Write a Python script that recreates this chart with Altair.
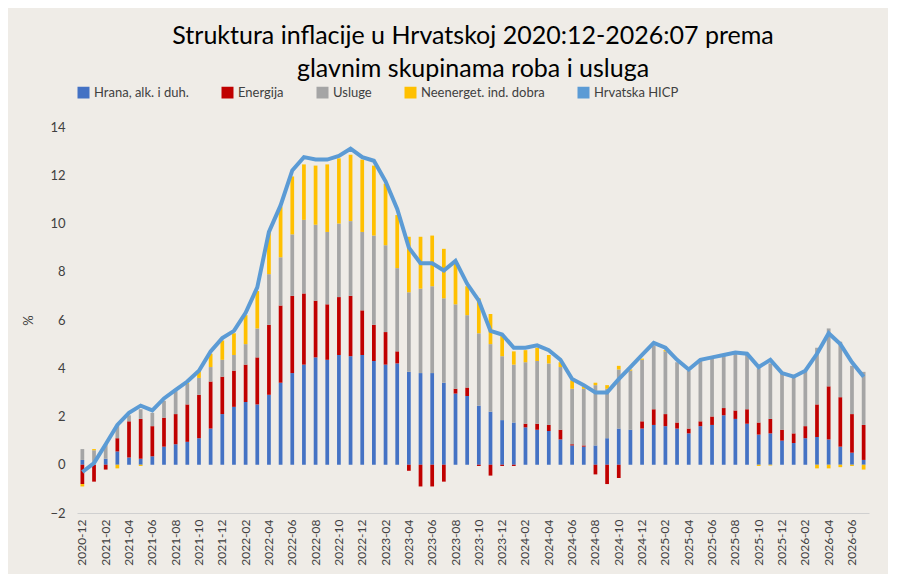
import altair as alt
import pandas as pd

start = pd.Period("2020-12", freq="M")
months = [str(start + i) for i in range(68)]

hrana = [0.2, 0.0, 0.25, 0.55, 0.3, 0.25, 0.35, 0.75, 0.85, 0.95, 1.1, 1.5, 2.1, 2.4, 2.6, 2.5,
         2.9, 3.4, 3.8, 4.15, 4.45, 4.35, 4.55, 4.5, 4.55, 4.3, 4.15, 4.2, 3.85, 3.8, 3.8, 3.4,
         2.95, 2.85, 2.45, 2.2, 1.85, 1.75, 1.55, 1.45, 1.4, 1.05, 0.8, 0.75, 0.8, 1.1, 1.5, 1.45,
         1.5, 1.65, 1.6, 1.5, 1.3, 1.6, 1.65, 2.05, 1.9, 1.7, 1.25, 1.3, 1.0, 0.9, 1.1, 1.15,
         1.05, 0.75, 0.5, 0.2]
energija = [-0.8, -0.7, -0.2, 0.55, 1.5, 1.65, 1.25, 1.2, 1.25, 1.55, 1.8, 1.95, 1.55, 1.5, 1.55, 1.95,
            2.9, 3.2, 3.2, 2.95, 2.35, 2.3, 2.4, 2.5, 1.85, 1.5, 1.35, 0.5, -0.25, -0.9, -0.9, -0.7,
            0.2, 0.35, -0.05, -0.45, -0.05, -0.05, 0.15, 0.25, 0.25, 0.4, 0.05, 0.05, -0.4, -0.8, -0.55, 0.0,
            0.3, 0.65, 0.5, 0.25, 0.2, 0.2, 0.35, 0.3, 0.35, 0.6, 0.5, 0.6, 0.45, 0.4, 0.5, 1.35,
            2.2, 2.05, 1.6, 1.45]
usluge = [0.45, 0.6, 0.6, 0.55, 0.25, 0.4, 0.55, 0.7, 0.95, 0.85, 0.7, 0.6, 0.7, 0.65, 0.85, 1.2,
          2.1, 2.0, 2.55, 3.05, 3.15, 3.0, 3.05, 3.1, 3.25, 3.7, 3.6, 3.45, 3.3, 3.5, 3.6, 3.5,
          3.5, 3.0, 3.0, 2.8, 2.65, 2.4, 2.55, 2.6, 2.55, 2.6, 2.3, 2.35, 2.5, 2.05, 2.45, 2.45,
          2.55, 2.65, 2.6, 2.5, 2.4, 2.5, 2.4, 2.2, 2.35, 2.25, 2.25, 2.3, 2.35, 2.35, 2.3, 2.35,
          2.4, 2.3, 2.0, 2.2]
neenerget = [-0.1, 0.05, 0.0, -0.15, 0.0, -0.05, 0.0, 0.0, 0.0, 0.05, 0.3, 0.55, 0.8, 0.9, 1.2, 1.55,
             1.75, 2.1, 2.4, 2.3, 2.45, 2.8, 2.7, 2.75, 3.0, 2.9, 2.55, 2.2, 2.3, 2.15, 2.1, 2.05,
             1.8, 1.2, 1.45, 1.25, 0.85, 0.55, 0.5, 0.55, 0.35, 0.2, 0.35, 0.1, 0.1, 0.15, 0.15, 0.05,
             0.05, 0.0, 0.05, 0.0, 0.0, 0.0, 0.0, 0.0, 0.0, 0.0, -0.05, -0.03, 0.0, 0.0, 0.0, -0.15,
             -0.15, -0.1, -0.05, -0.2]
hicp = [-0.3, 0.07, 0.85, 1.65, 2.15, 2.45, 2.25, 2.75, 3.1, 3.45, 3.9, 4.7, 5.25, 5.55, 6.3, 7.35,
        9.65, 10.75, 12.2, 12.75, 12.65, 12.65, 12.8, 13.1, 12.75, 12.6, 11.75, 10.6, 9.0, 8.35, 8.35, 8.05,
        8.45, 7.5, 6.8, 5.55, 5.4, 4.85, 4.85, 4.95, 4.75, 4.35, 3.55, 3.3, 3.0, 3.0, 3.55, 4.05,
        4.55, 5.05, 4.85, 4.35, 3.95, 4.35, 4.45, 4.55, 4.65, 4.6, 4.05, 4.35, 3.8, 3.65, 3.9, 4.6,
        5.45, 5.0, 4.25, 3.65]

series = ["Hrana, alk. i duh.", "Energija", "Usluge", "Neenerget. ind. dobra"]
colors = ["#4472C4", "#C00000", "#A5A5A5", "#FFC000"]
legend_names = series + ["Hrvatska HICP"]
legend_colors = colors + ["#5B9BD5"]

rows = []
for k, (name, vals) in enumerate(zip(series, [hrana, energija, usluge, neenerget])):
    for m, v in zip(months, vals):
        rows.append({"mjesec": m, "skupina": name, "vrijednost": v, "red": k})
bars_df = pd.DataFrame(rows)
line_df = pd.DataFrame({"mjesec": months, "skupina": "Hrvatska HICP", "vrijednost": hicp})

label_months = [m for i, m in enumerate(months) if i % 2 == 0]
x = alt.X("mjesec:O", title=None, scale=alt.Scale(paddingInner=0.68, paddingOuter=0.3),
          axis=alt.Axis(labelAngle=270, labelExpr="indexof(" + str(label_months) + ", datum.value) >= 0 ? datum.value : ''",
                        ticks=False, domainColor="#d0d0d0", labelFontSize=12, labelColor="#404040", labelPadding=6))
color = alt.Color("skupina:N", title=None,
                  scale=alt.Scale(domain=legend_names, range=legend_colors),
                  legend=alt.Legend(orient="top", direction="horizontal", symbolType="square",
                                    symbolSize=110, labelFontSize=13, labelColor="#404040",
                                    columnPadding=30, offset=26))

bars = alt.Chart(bars_df).mark_bar().encode(
    x=x,
    y=alt.Y("vrijednost:Q", title="%", stack="zero",
            scale=alt.Scale(domain=[-2, 14]),
            axis=alt.Axis(values=list(range(-2, 15, 2)), grid=False, domain=False, ticks=False,
                          labelFontSize=13, labelColor="#404040", titleFontWeight="normal",
                          titleFontSize=13, titleColor="#404040", labelPadding=12, titlePadding=14)),
    color=color,
    order=alt.Order("red:Q"),
)
line = alt.Chart(line_df).mark_line(strokeWidth=4, color="#5B9BD5").encode(
    x=x, y="vrijednost:Q", color=color
)

chart = (bars + line).properties(
    width=880, height=566,
    autosize=alt.AutoSizeParams(type="fit", contains="padding"),
    background="#EFECE7",
    padding={"left": 14, "right": 16, "top": 16, "bottom": 8},
    title=alt.Title(["Struktura inflacije u Hrvatskoj 2020:12-2026:07 prema",
                     "glavnim skupinama roba i usluga"],
                    fontSize=25, font="Lato", fontWeight="normal", color="#000000", lineHeight=33,
                    offset=4),
).configure(font="Lato").configure_view(stroke=None)

chart.save("out.html", embed_options={"renderer": "svg", "actions": False})
